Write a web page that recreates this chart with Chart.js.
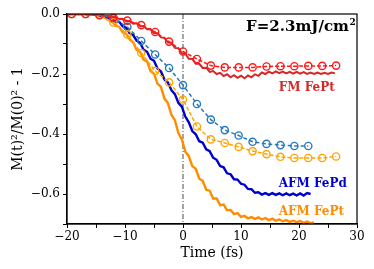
<!DOCTYPE html>
<html><head><meta charset="utf-8">
<script src="https://cdn.jsdelivr.net/npm/chart.js@4/dist/chart.umd.min.js"></script>
<style>html,body{margin:0;padding:0;background:#fff;}canvas{display:block;}</style>
</head><body>
<canvas id="c" width="374" height="269"></canvas>
<script>
// Shared time grid (fs) for the simulated curves
const lineX = [-20,-19.4,-18.8,-18.2,-17.6,-17,-16.4,-15.8,-15.2,-14.6,-14,-13.4,-12.8,-12.2,-11.6,-11,-10.4,-9.8,-9.2,-8.6,-8,-7.4,-6.8,-6.2,-5.6,-5,-4.4,-3.8,-3.2,-2.6,-2,-1.4,-0.8,-0.2,0.4,1,1.6,2.2,2.8,3.4,4,4.6,5.2,5.8,6.4,7,7.6,8.2,8.8,9.4,10,10.6,11.2,11.8,12.4,13,13.6,14.2,14.8,15.4,16,16.6,17.2,17.8,18.4,19,19.6,20.2,20.8,21.4,22,22.6,23.2,23.8,24.4,25,25.6,26.2];
const afmFePtLine = [0,0,0,0,0,0,-0.001,-0.001,-0.003,-0.005,-0.009,-0.013,-0.021,-0.026,-0.039,-0.043,-0.061,-0.066,-0.085,-0.094,-0.12,-0.126,-0.152,-0.158,-0.19,-0.199,-0.232,-0.243,-0.282,-0.297,-0.336,-0.354,-0.397,-0.418,-0.459,-0.474,-0.507,-0.516,-0.549,-0.556,-0.586,-0.589,-0.615,-0.615,-0.637,-0.635,-0.654,-0.653,-0.667,-0.664,-0.676,-0.673,-0.681,-0.677,-0.683,-0.678,-0.685,-0.68,-0.687,-0.682,-0.689,-0.685,-0.691,-0.687,-0.693,-0.689,-0.694,-0.69,-0.696,-0.692,-0.697,-0.695];
const afmFePdLine = [0,0,0,0,0,0,-0.001,-0.001,-0.002,-0.003,-0.006,-0.008,-0.013,-0.015,-0.025,-0.026,-0.041,-0.046,-0.064,-0.07,-0.089,-0.096,-0.119,-0.126,-0.149,-0.156,-0.182,-0.192,-0.218,-0.228,-0.254,-0.267,-0.296,-0.309,-0.342,-0.361,-0.39,-0.401,-0.424,-0.429,-0.451,-0.457,-0.479,-0.486,-0.507,-0.511,-0.531,-0.534,-0.551,-0.552,-0.566,-0.569,-0.583,-0.584,-0.596,-0.594,-0.602,-0.597,-0.603,-0.597,-0.603,-0.598,-0.604,-0.598,-0.604,-0.599,-0.605,-0.598,-0.605,-0.597,-0.6];
const fmFePtLine = [0,0,0,0,0,0,0,0,-0.001,-0.002,-0.003,-0.006,-0.006,-0.01,-0.01,-0.017,-0.016,-0.024,-0.023,-0.032,-0.031,-0.041,-0.04,-0.051,-0.05,-0.064,-0.064,-0.078,-0.079,-0.095,-0.096,-0.113,-0.114,-0.131,-0.132,-0.149,-0.15,-0.166,-0.166,-0.18,-0.179,-0.193,-0.19,-0.2,-0.196,-0.207,-0.201,-0.211,-0.204,-0.213,-0.206,-0.214,-0.205,-0.211,-0.201,-0.206,-0.195,-0.2,-0.192,-0.198,-0.191,-0.197,-0.192,-0.198,-0.193,-0.199,-0.193,-0.199,-0.194,-0.2,-0.195,-0.2,-0.195,-0.2,-0.196,-0.2,-0.195,-0.198];
// Marker (circle) series
const circX = [-19.2,-16.8,-14.4,-12,-9.6,-7.2,-4.8,-2.4,0,2.4,4.8,7.2,9.6,12,14.4,16.8,19.2,21.6,24,26.4];
const fmFePtCirc = [0,0,-0.003,-0.012,-0.022,-0.037,-0.06,-0.092,-0.125,-0.15,-0.172,-0.178,-0.178,-0.178,-0.175,-0.174,-0.174,-0.173,-0.173,-0.172];
const afmFePtCirc = [0,0,-0.005,-0.028,-0.068,-0.13,-0.19,-0.228,-0.285,-0.375,-0.418,-0.43,-0.443,-0.457,-0.467,-0.476,-0.48,-0.48,-0.48,-0.475];
const afmFePdCirc = [0,0,-0.003,-0.015,-0.043,-0.09,-0.135,-0.18,-0.237,-0.3,-0.352,-0.387,-0.405,-0.426,-0.433,-0.437,-0.44,-0.44];
const zeroLineX = [0,0];
const zeroLineY = [0,-0.7];
const xTicks = [-20,-10,0,10,20,30];
const yTicks = [0,-0.2,-0.4,-0.6];

function pts(xs, ys){ return ys.map((y,i)=>({x:xs[i], y:y})); }
const SERIF = '"DejaVu Serif", "Liberation Serif", serif';
const fmtX = v => String(Math.round(v)).replace('-', '\u2212');
const fmtY = v => { const s = Math.abs(v) < 1e-9 ? 0 : v; return s.toFixed(1).replace('-', '\u2212'); };

const boxPlugin = {
  id:'box',
  afterDraw(chart){
    const {ctx, chartArea:a, scales} = chart;
    ctx.save();
    ctx.strokeStyle = '#000'; ctx.lineWidth = 1.2;
    ctx.strokeRect(a.left, a.top, a.right-a.left, a.bottom-a.top);
    const X = scales.x, Y = scales.y;
    ctx.textBaseline = 'middle';
    ctx.font = 'bold 15px ' + SERIF; ctx.fillStyle = '#000'; ctx.textAlign = 'left';
    const t = 'F=2.3mJ/cm';
    const w = ctx.measureText(t).width;
    const xr = X.getPixelForValue(28.6), yc = Y.getPixelForValue(-0.044);
    ctx.fillText(t, xr - w, yc);
    ctx.font = 'bold 9px ' + SERIF;
    ctx.fillText('2', xr + 0.5, yc - 5);
    ctx.font = 'bold 12px ' + SERIF;
    ctx.fillStyle = '#d62728'; ctx.fillText('FM FePt', X.getPixelForValue(16.5), Y.getPixelForValue(-0.247));
    ctx.fillStyle = '#0000cd'; ctx.fillText('AFM FePd', X.getPixelForValue(16.5), Y.getPixelForValue(-0.567));
    ctx.fillStyle = '#ff8c00'; ctx.fillText('AFM FePt', X.getPixelForValue(16.5), Y.getPixelForValue(-0.66));
    ctx.fillStyle = '#000'; ctx.font = '14px ' + SERIF; ctx.textAlign = 'center';
    ctx.fillText('Time (fs)', (a.left+a.right)/2, 253);
    ctx.translate(18, (a.top+a.bottom)/2); ctx.rotate(-Math.PI/2);
    ctx.fillText('M(t)\u00b2/M(0)\u00b2 - 1', 0, 0);
    ctx.restore();
  }
};

new Chart(document.getElementById('c'), {
  type:'line',
  data:{ datasets:[
    {data:pts(circX, fmFePtCirc), borderColor:'#ff1a1a', backgroundColor:'rgba(0,0,0,0)', borderWidth:1.5, borderDash:[4,2], pointRadius:3.6, pointBorderWidth:1.4, pointBorderColor:'#ff1a1a', pointBackgroundColor:'rgba(0,0,0,0)', order:1},
    {data:pts(circX, afmFePtCirc), borderColor:'#ffa500', backgroundColor:'rgba(0,0,0,0)', borderWidth:1.5, borderDash:[4,2], pointRadius:3.6, pointBorderWidth:1.4, pointBorderColor:'#ffa500', pointBackgroundColor:'rgba(0,0,0,0)', order:2},
    {data:pts(circX, afmFePdCirc), borderColor:'#2a7ab9', backgroundColor:'rgba(0,0,0,0)', borderWidth:1.5, borderDash:[4,2.5], pointRadius:3.6, pointBorderWidth:1.4, pointBorderColor:'#2a7ab9', pointBackgroundColor:'rgba(0,0,0,0)', order:3},
    {data:pts(lineX, fmFePtLine), borderColor:'#d62728', borderWidth:2, pointRadius:0, order:4},
    {data:pts(lineX, afmFePdLine), borderColor:'#0000cd', borderWidth:2.4, pointRadius:0, order:5},
    {data:pts(lineX, afmFePtLine), borderColor:'#ff8c00', borderWidth:2.4, pointRadius:0, order:6},
    {data:pts(zeroLineX, zeroLineY), borderColor:'#333', borderWidth:0.9, borderDash:[5,2,1,2], pointRadius:0, order:7}
  ]},
  options:{
    responsive:false, animation:false, devicePixelRatio:1,
    plugins:{legend:{display:false}, tooltip:{enabled:false}},
    layout:{padding:{top:14, right:17, left:0, bottom:0}},
    elements:{line:{tension:0}},
    scales:{
      x:{type:'linear', min:-20, max:30,
        afterFit(s){ s.height = 45; },
        afterBuildTicks(s){ s.ticks = [-20,-15,-10,-5,0,5,10,15,20,25,30].map(v=>({value:v})); },
        ticks:{ autoSkip:false, maxRotation:0, color:'#000', font:{family:SERIF, size:12}, padding:2,
          callback:(v)=> xTicks.includes(v) ? fmtX(v) : '' },
        grid:{drawOnChartArea:false, drawTicks:true, tickLength:4, color:'#000', lineWidth:1},
        border:{display:true, color:'#000', width:1.2}
      },
      y:{type:'linear', min:-0.7, max:0,
        afterFit(s){ s.width = 67; },
        afterBuildTicks(s){ s.ticks = [0,-0.1,-0.2,-0.3,-0.4,-0.5,-0.6,-0.7].map(v=>({value:v})); },
        ticks:{ autoSkip:false, color:'#000', font:{family:SERIF, size:12}, padding:3,
          callback:(v)=> yTicks.some(t=>Math.abs(t-v)<1e-6) ? fmtY(v) : '' },
        grid:{drawOnChartArea:false, drawTicks:true, tickLength:4, color:'#000', lineWidth:1},
        border:{display:true, color:'#000', width:1.2}
      }
    }
  },
  plugins:[boxPlugin]
});
</script>
</body></html>
